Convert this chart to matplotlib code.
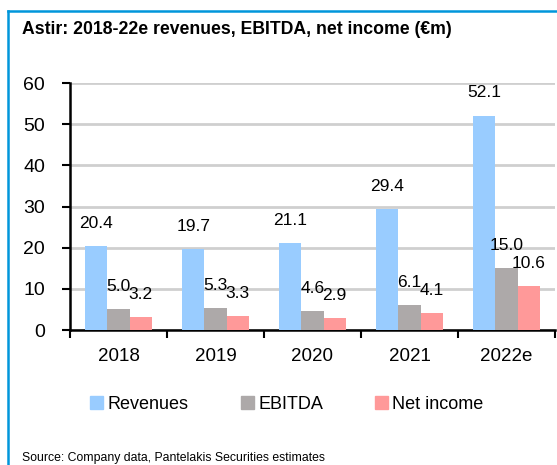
import matplotlib
matplotlib.use("Agg")
import matplotlib.pyplot as plt
from matplotlib.lines import Line2D
from matplotlib.patches import Patch
import numpy as np

years = ["2018", "2019", "2020", "2021", "2022e"]
revenues = [20.4, 19.7, 21.1, 29.4, 52.1]
ebitda = [5.0, 5.3, 4.6, 6.1, 15.0]
net_income = [3.2, 3.3, 2.9, 4.1, 10.6]
series_names = ["Revenues", "EBITDA", "Net income"]
colors = ["#99CCFF", "#ADA9A9", "#FF9999"]
yticks = [0, 10, 20, 30, 40, 50, 60]

plt.rcParams['font.family'] = ['Liberation Sans', 'DejaVu Sans']

fig = plt.figure(figsize=(5.57, 4.65), dpi=100)
ax = fig.add_axes([70/557, 1 - 330/465, 485/557, (330-83)/465])

x = np.arange(len(years))
w = 0.228
offs = [-w, 0, w]
for vals, off, c, name in zip([revenues, ebitda, net_income], offs, colors, series_names):
    bars = ax.bar(x + off, vals, width=w, color=c, label=name, zorder=3)
    for b, v in zip(bars, vals):
        ax.annotate(f"{v:.1f}", (b.get_x() + b.get_width()/2, v), xytext=(0, 11),
                    textcoords="offset points", ha="center", va="bottom", fontsize=12.5, zorder=4)

ax.set_xlim(-0.5, len(years) - 0.5)
ax.set_ylim(0, 60)
ax.set_yticks(yticks)
ax.set_yticklabels([str(t) for t in yticks], fontsize=14)
ax.yaxis.grid(True, color="#CFCFCF", linewidth=2, zorder=0)
ax.set_axisbelow(True)

ax.set_xticks(x)
ax.set_xticklabels(years, fontsize=13.5)
ax.set_xticks(np.arange(len(years) + 1) - 0.5, minor=True)
ax.tick_params(axis="x", which="major", length=0, pad=13)
ax.tick_params(axis="x", which="minor", length=6, width=1.5, direction="out")
ax.tick_params(axis="y", length=6, width=1.5, direction="out", pad=12)

for s in ["top", "right"]:
    ax.spines[s].set_visible(False)
for s in ["left", "bottom"]:
    ax.spines[s].set_linewidth(1.8)

handles = [Patch(color=c) for c in colors]
fig.legend(handles, series_names, loc="center", bbox_to_anchor=(287/557, 1 - 404/465),
           ncol=3, frameon=False, fontsize=13, handlelength=0.7, handleheight=0.7,
           handletextpad=0.25, columnspacing=2.9)

fig.text(22/557, 1 - 30/465, "Astir: 2018-22e revenues, EBITDA, net income (€m)",
         fontsize=12.7, fontweight="bold", ha="left", va="center")
fig.text(22/557, 1 - 458/465, "Source: Company data, Pantelakis Securities estimates",
         fontsize=8.8, ha="left", va="center")

border_c = "#0096DB"
fig.add_artist(Line2D([8/557, 8/557], [0, 1 - 11/465], color=border_c, linewidth=1.8, transform=fig.transFigure))
fig.add_artist(Line2D([8/557, 1], [1 - 11/465, 1 - 11/465], color=border_c, linewidth=1.8, transform=fig.transFigure))

fig.savefig("out.png", dpi=100)
